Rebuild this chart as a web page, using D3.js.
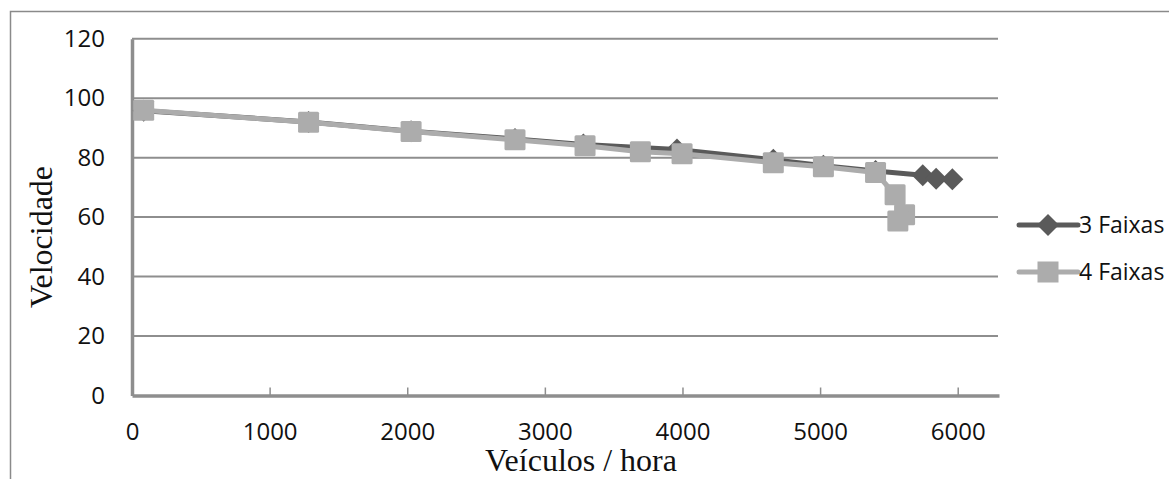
<!DOCTYPE html>
<html>
<head>
<meta charset="utf-8">
<script src="https://cdn.jsdelivr.net/npm/d3@7"></script>
<style>
  body { margin: 0; background: #fff; }
  svg { display: block; }
</style>
</head>
<body>
<div id="chart"></div>
<script>
// values
var seriesNames = ['3 Faixas', '4 Faixas'];

var flow3 = [85, 1283, 2028, 2783, 3280, 3960, 4660, 5024, 5403, 5746, 5843, 5961];
var speed3 = [95.8, 92.0, 88.9, 86.3, 84.4, 82.7, 79.3, 77.3, 75.5, 74.1, 72.9, 72.7];

var flow4 = [85, 1283, 2028, 2783, 3292, 3694, 3997, 4660, 5024, 5403, 5545, 5614, 5565];
var speed4 = [95.9, 91.9, 88.8, 86.0, 84.0, 82.0, 81.3, 78.3, 76.9, 75.0, 67.5, 60.8, 58.7];

var xTicks = [0, 1000, 2000, 3000, 4000, 5000, 6000];
var yTicks = [0, 20, 40, 60, 80, 100, 120];

var W = 1169, H = 479;
var plotLeft = 132, plotRight = 999, plotTop = 38.7, plotBottom = 395.5;

var DARK = '#5a5a5a', LIGHT = '#acacac', GRID = '#8e8e8e';

var svg = d3.select('#chart').append('svg')
    .attr('width', W)
    .attr('height', H);

// outer chart frame (only top and left edges show)
svg.append('rect')
    .attr('x', 10.5).attr('y', 11.5)
    .attr('width', 1300).attr('height', 600)
    .attr('fill', 'none')
    .attr('stroke', '#8a8a8a')
    .attr('stroke-width', 1.5);

var x = d3.scaleLinear().domain([0, 6300]).range([plotLeft, plotRight]);
var y = d3.scaleLinear().domain([0, 120]).range([plotBottom, plotTop]);

// horizontal gridlines
svg.append('g')
    .selectAll('line')
    .data(yTicks.filter(function(d) { return d > 0; }))
    .enter().append('line')
    .attr('x1', plotLeft).attr('x2', 998)
    .attr('y1', function(d) { return y(d); })
    .attr('y2', function(d) { return y(d); })
    .attr('stroke', GRID)
    .attr('stroke-width', 2);

// y axis
var gy = svg.append('g')
    .attr('transform', 'translate(' + plotLeft + ',0)')
    .call(d3.axisLeft(y).tickValues(yTicks).tickFormat(d3.format('d')).tickSize(0).tickPadding(27));
gy.select('.domain').attr('stroke', GRID).attr('stroke-width', 3.5);
gy.selectAll('text')
    .attr('font-family', '"Open Sans", sans-serif')
    .attr('font-size', 24)
    .attr('fill', '#111');

// x axis
var gx = svg.append('g')
    .attr('transform', 'translate(0,' + plotBottom + ')')
    .call(d3.axisBottom(x).tickValues(xTicks).tickFormat(d3.format('d'))
      .tickSizeInner(-8).tickSizeOuter(0).tickPadding(27));
gx.select('.domain').attr('stroke', GRID).attr('stroke-width', 3.5);
gx.selectAll('.tick line').attr('stroke', GRID).attr('stroke-width', 1.5);
gx.selectAll('text')
    .attr('font-family', '"Open Sans", sans-serif')
    .attr('font-size', 24)
    .attr('fill', '#111');

// axis titles
svg.append('text')
    .attr('x', 581).attr('y', 471)
    .attr('text-anchor', 'middle')
    .attr('font-family', '"Liberation Serif", serif')
    .attr('font-size', 32)
    .attr('fill', '#111')
    .text('Veículos / hora');

svg.append('text')
    .attr('transform', 'translate(52,237) rotate(-90)')
    .attr('text-anchor', 'middle')
    .attr('font-family', '"Liberation Serif", serif')
    .attr('font-size', 32)
    .attr('fill', '#111')
    .text('Velocidade');

var line = d3.line()
    .x(function(d) { return x(d[0]); })
    .y(function(d) { return y(d[1]); });

var pts3 = d3.zip(flow3, speed3);
var pts4 = d3.zip(flow4, speed4);

var diamond = 'M0,-11 L11,0 L0,11 L-11,0 Z';

// 3 Faixas
svg.append('path')
    .attr('d', line(pts3))
    .attr('fill', 'none')
    .attr('stroke', DARK)
    .attr('stroke-width', 5)
    .attr('stroke-linejoin', 'round');
svg.append('g').selectAll('path')
    .data(pts3)
    .enter().append('path')
    .attr('d', diamond)
    .attr('transform', function(d) { return 'translate(' + x(d[0]) + ',' + y(d[1]) + ')'; })
    .attr('fill', DARK);

// 4 Faixas
svg.append('path')
    .attr('d', line(pts4))
    .attr('fill', 'none')
    .attr('stroke', LIGHT)
    .attr('stroke-width', 5)
    .attr('stroke-linejoin', 'round');
svg.append('g').selectAll('rect')
    .data(pts4)
    .enter().append('rect')
    .attr('x', function(d) { return x(d[0]) - 10.5; })
    .attr('y', function(d) { return y(d[1]) - 10.5; })
    .attr('width', 21).attr('height', 21)
    .attr('rx', 1.5)
    .attr('fill', LIGHT);

// legend
var legend = svg.append('g');
var legendY = [225, 272];
seriesNames.forEach(function(name, i) {
  var col = i === 0 ? DARK : LIGHT;
  var g = legend.append('g').attr('transform', 'translate(0,' + legendY[i] + ')');
  g.append('line')
      .attr('x1', 1019).attr('x2', 1078)
      .attr('stroke', col)
      .attr('stroke-width', 5)
      .attr('stroke-linecap', 'round');
  if (i === 0) {
    g.append('path').attr('d', diamond).attr('transform', 'translate(1048,0)').attr('fill', col);
  } else {
    g.append('rect').attr('x', 1037.5).attr('y', -10.5).attr('width', 21).attr('height', 21).attr('fill', col);
  }
  g.append('text')
      .attr('x', 1079).attr('y', 0)
      .attr('dy', '0.36em')
      .attr('font-family', '"Open Sans", sans-serif')
      .attr('font-size', 23)
      .attr('fill', '#111')
      .text(name);
});
</script>
</body>
</html>
